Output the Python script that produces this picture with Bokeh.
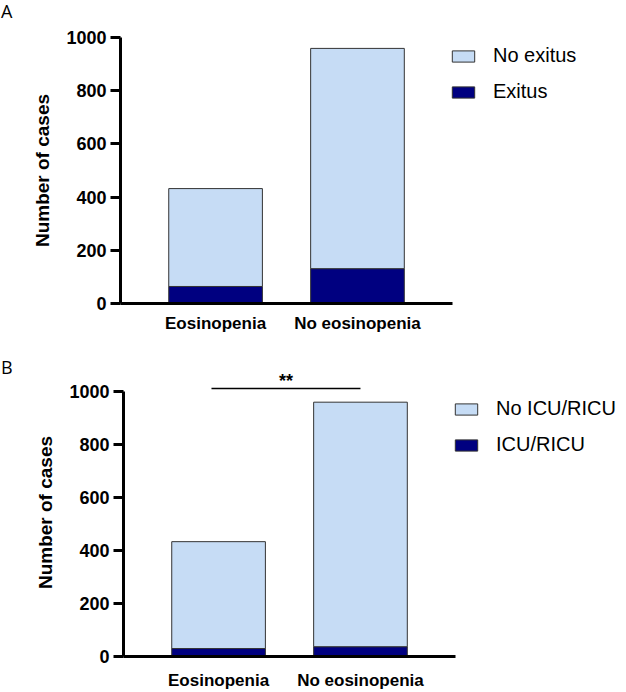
from bokeh.plotting import figure
from bokeh.models import Range1d, FixedTicker, Legend, LegendItem, Div
from bokeh.layouts import column, row
from bokeh.embed import file_html
from bokeh.resources import INLINE
from bokeh.core.properties import value

# ---- data ----
categories = ["Eosinopenia", "No eosinopenia"]
y_ticks = [0, 200, 400, 600, 800, 1000]

# Panel A: mortality
exitus = [64, 131]
no_exitus = [368, 828]
# Panel B: ICU/RICU admission
icu = [30, 37]
no_icu = [403, 922]
sig_text = "**"

LIGHT = "#c6dcf5"
DARK = "#000080"
EDGE = "#333333"
FONT = "Liberation Sans"
PX_PER_UNIT = 141.9
X0 = -0.67
X_AXIS_END = 1.67


def make_panel(dark_vals, light_vals, dark_label, light_label,
               width, height, b_left, b_top, b_bottom, y_end,
               leg_x, leg_y, leg_spacing, x_standoff):
    frame_w = width - b_left
    p = figure(width=width, height=height, output_backend="svg", toolbar_location=None,
               x_range=Range1d(X0, X0 + frame_w / PX_PER_UNIT), y_range=Range1d(0, y_end),
               min_border_left=b_left, min_border_right=0,
               min_border_top=b_top, min_border_bottom=b_bottom)
    p.outline_line_color = None
    p.xgrid.visible = False
    p.ygrid.visible = False
    p.background_fill_color = "white"
    p.border_fill_color = "white"

    xs = list(range(len(categories)))
    tops = [d + l for d, l in zip(dark_vals, light_vals)]
    r_dark = p.vbar(x=xs, width=0.66, bottom=0, top=dark_vals,
                    fill_color=DARK, line_color=EDGE, line_width=1)
    r_light = p.vbar(x=xs, width=0.66, bottom=dark_vals, top=tops,
                     fill_color=LIGHT, line_color=EDGE, line_width=1)

    # y axis
    ya = p.yaxis[0]
    ya.ticker = FixedTicker(ticks=y_ticks)
    ya.bounds = (0, 1000)
    ya.axis_line_width = 3
    ya.axis_line_color = "black"
    ya.major_tick_line_width = 3
    ya.major_tick_line_color = "black"
    ya.major_tick_out = 10
    ya.major_tick_in = 0
    ya.minor_tick_line_color = None
    ya.major_label_standoff = 4
    ya.major_label_text_font = FONT
    ya.major_label_text_font_style = "bold"
    ya.major_label_text_font_size = "18px"
    ya.major_label_text_color = "black"
    ya.axis_label = "Number of cases"
    ya.axis_label_text_font = FONT
    ya.axis_label_text_font_style = "bold"
    ya.axis_label_text_font_size = "19px"
    ya.axis_label_text_color = "black"
    ya.axis_label_standoff = 10

    # x axis
    xa = p.xaxis[0]
    xa.ticker = FixedTicker(ticks=xs)
    xa.bounds = (X0, X_AXIS_END)
    xa.major_label_overrides = {i: c for i, c in enumerate(categories)}
    xa.axis_line_width = 3
    xa.axis_line_color = "black"
    xa.major_tick_line_color = None
    xa.minor_tick_line_color = None
    xa.major_label_standoff = x_standoff
    xa.major_label_text_font = FONT
    xa.major_label_text_font_style = "bold"
    xa.major_label_text_font_size = "17px"
    xa.major_label_text_color = "black"

    legend = Legend(items=[LegendItem(label=light_label, renderers=[r_light]),
                           LegendItem(label=dark_label, renderers=[r_dark])],
                    location=(leg_x, leg_y), orientation="vertical",
                    glyph_width=28, glyph_height=14, label_standoff=16,
                    spacing=leg_spacing, padding=0, margin=0,
                    border_line_alpha=0, background_fill_alpha=0,
                    label_text_font=FONT, label_text_font_size="20px",
                    label_text_color="black")
    p.add_layout(legend)
    return p


def letter_div(letter, height, pad_top):
    return Div(text=letter, width=16, height=height, margin=0,
               styles={"font-family": "Open Sans", "font-size": "18px",
                       "color": "black", "padding-top": f"{pad_top}px",
                       "padding-left": "1px", "line-height": "22px"})


pA = make_panel(exitus, no_exitus, "Exitus", "No exitus",
                width=610, height=341, b_left=104, b_top=37, b_bottom=38,
                y_end=1000, leg_x=329, leg_y=200, leg_spacing=13, x_standoff=4)

pB = make_panel(icu, no_icu, "ICU/RICU", "No ICU/RICU",
                width=610, height=351, b_left=107, b_top=27, b_bottom=33,
                y_end=1086, leg_x=329, leg_y=200, leg_spacing=13, x_standoff=8)

# significance bar between the two groups in panel B
pB.segment(x0=[0 - 0.05], y0=[1011], x1=[1], y1=[1011],
           line_color="black", line_width=1.5)
pB.text(x=[0.475], y=[1040], text=[sig_text], text_align="center",
        text_baseline="middle", text_font=value(FONT), text_font_style="bold",
        text_font_size="18px", text_color="black")

layout = column(row(letter_div("A", 341, 0), pA, spacing=0),
                row(letter_div("B", 351, 15), pB, spacing=0), spacing=0)
open("out.html", "w").write(file_html(layout, INLINE))
